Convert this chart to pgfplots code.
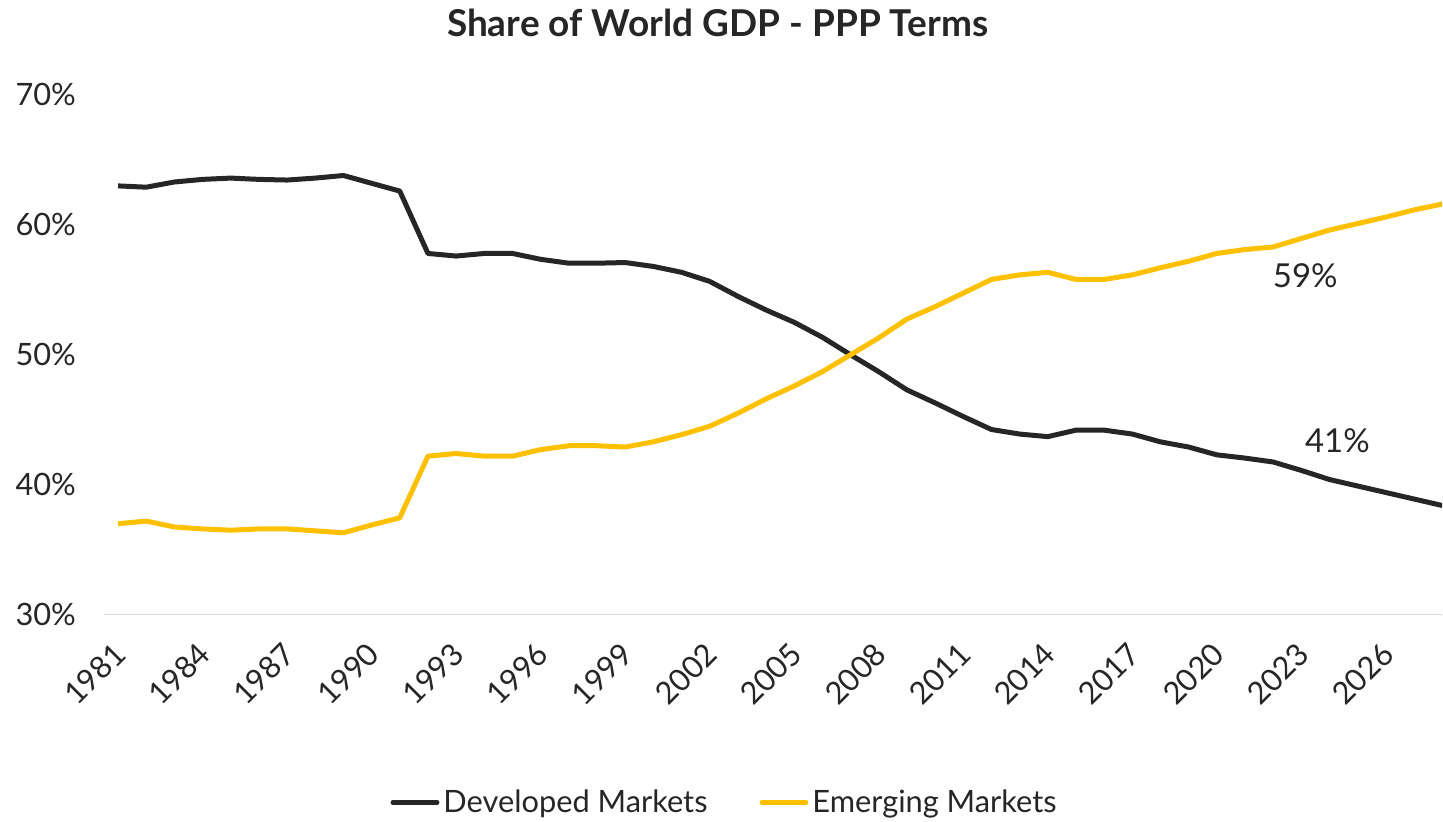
\documentclass[border=0pt]{standalone}
\usepackage{fontspec}
\setmainfont{Lato}
\usepackage{pgfplots}
\pgfplotsset{compat=1.18}
\definecolor{devc}{HTML}{262626}
\definecolor{emc}{HTML}{FFC000}
\definecolor{txt}{HTML}{262626}
\definecolor{gridc}{HTML}{D9D9D9}
\begin{document}
\begin{tikzpicture}
\begin{axis}[
  scale only axis,
  width=669.5pt, height=260pt,
  xmin=1980.5, xmax=2028,
  ymin=30, ymax=70,
  ytick={30,40,50,60,70},
  yticklabel={\pgfmathprintnumber{\tick}\%},
  xtick={1981,1984,...,2026},
  xticklabel style={/pgf/number format/1000 sep={}, xshift=3.5pt, yshift=-14.5pt, rotate=45, anchor=east, font=\fontsize{15.4pt}{18pt}\selectfont, text=txt},
  yticklabel style={font=\fontsize{15.4pt}{18pt}\selectfont, text=txt, xshift=-10.5pt},
  /pgf/number format/assume math mode=true,
  axis x line*=bottom, axis y line*=left,
  x axis line style={draw=gridc, line width=0.8pt, -},
  y axis line style={draw=none},
  major tick length=0pt,
  tick style={draw=none},
  title={Share of World GDP - PPP Terms},
  title style={at={(0.4586,1.1154)}, anchor=center, inner sep=0pt, font=\fontsize{18.5pt}{22pt}\selectfont\bfseries, text=txt},
  legend style={at={(0.4645,-0.3615)}, anchor=center, draw=none, fill=none, legend columns=2, inner sep=0pt,
    font=\fontsize{15.4pt}{18pt}\selectfont, text=txt,
    /tikz/every even column/.append style={column sep=24pt}},
  legend image code/.code={\draw[#1, line width=2.5pt, line cap=round] (0pt,0pt) -- (22pt,0pt);},
]
\addplot[devc, line width=2.5pt, line join=round] coordinates {
(1981,63.0)(1982,62.9)(1983,63.3)(1984,63.5)(1985,63.6)(1986,63.5)(1987,63.45)(1988,63.6)(1989,63.8)(1990,63.2)
(1991,62.6)(1992,57.8)(1993,57.6)(1994,57.8)(1995,57.8)(1996,57.35)(1997,57.05)(1998,57.05)(1999,57.1)(2000,56.8)
(2001,56.35)(2002,55.65)(2003,54.5)(2004,53.45)(2005,52.5)(2006,51.35)(2007,50.0)(2008,48.7)(2009,47.3)(2010,46.3)
(2011,45.25)(2012,44.25)(2013,43.9)(2014,43.7)(2015,44.2)(2016,44.2)(2017,43.9)(2018,43.3)(2019,42.9)(2020,42.3)
(2021,42.05)(2022,41.75)(2023,41.1)(2024,40.4)(2025,39.9)(2026,39.4)(2027,38.9)(2028,38.4)
};
\addlegendentry{Developed Markets}
\addplot[emc, line width=2.5pt, line join=round] coordinates {
(1981,37.0)(1982,37.2)(1983,36.75)(1984,36.6)(1985,36.5)(1986,36.6)(1987,36.6)(1988,36.45)(1989,36.3)(1990,36.9)
(1991,37.45)(1992,42.2)(1993,42.4)(1994,42.2)(1995,42.2)(1996,42.7)(1997,43.0)(1998,43.0)(1999,42.9)(2000,43.3)
(2001,43.85)(2002,44.5)(2003,45.5)(2004,46.6)(2005,47.6)(2006,48.7)(2007,50.0)(2008,51.3)(2009,52.75)(2010,53.7)
(2011,54.75)(2012,55.8)(2013,56.15)(2014,56.35)(2015,55.8)(2016,55.8)(2017,56.15)(2018,56.7)(2019,57.2)(2020,57.8)
(2021,58.1)(2022,58.3)(2023,58.95)(2024,59.6)(2025,60.1)(2026,60.6)(2027,61.15)(2028,61.6)
};
\addlegendentry{Emerging Markets}
\node[text=txt, font=\fontsize{16.5pt}{19pt}\selectfont] at (axis cs:2023.14,56.08) {59\%};
\node[text=txt, font=\fontsize{16.5pt}{19pt}\selectfont] at (axis cs:2024.28,43.38) {41\%};
\end{axis}
\path ([shift={(-52pt,-103.5pt)}]current axis.south west) rectangle ([shift={(0pt,47.5pt)}]current axis.north east);
\end{tikzpicture}
\end{document}
